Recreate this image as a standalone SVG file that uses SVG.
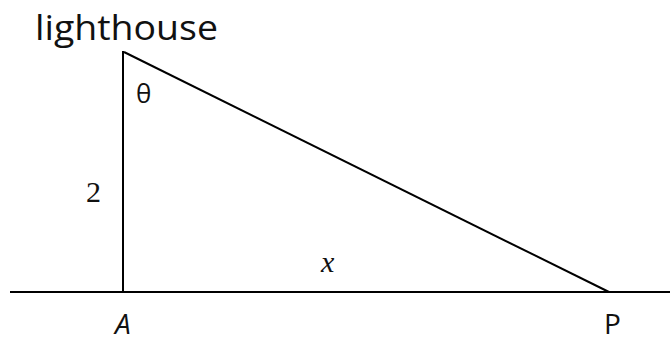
<svg xmlns="http://www.w3.org/2000/svg" width="670" height="341" viewBox="0 0 670 341">
<style>
.ln{stroke:#000;stroke-width:2;fill:none}
.s{font-family:"Open Sans","DejaVu Sans",sans-serif;fill:#111}
.r{font-family:"Liberation Serif",serif;fill:#111}
</style>
<rect width="670" height="341" fill="#fff"/>
<g id="connectors">
<line class="ln" x1="10" y1="292" x2="670" y2="292"/>
<line class="ln" x1="123" y1="51" x2="123" y2="292" stroke="#444"/>
<line class="ln" x1="124" y1="52" x2="609" y2="292"/>
</g>
<g id="lighthouse"><text class="s" x="35" y="40" font-size="34" textLength="183" lengthAdjust="spacingAndGlyphs">lighthouse</text></g>
<g id="theta"><text class="s" x="136" y="103" font-size="26">θ</text></g>
<g id="side2"><text class="r" x="86" y="202" font-size="30">2</text></g>
<g id="sidex"><text class="r" x="321" y="272" font-size="30" font-style="italic">x</text></g>
<g id="A"><text class="s" x="115" y="334" font-size="28" font-style="italic">A</text></g>
<g id="P"><text class="s" x="604" y="334" font-size="28">P</text></g>
</svg>
